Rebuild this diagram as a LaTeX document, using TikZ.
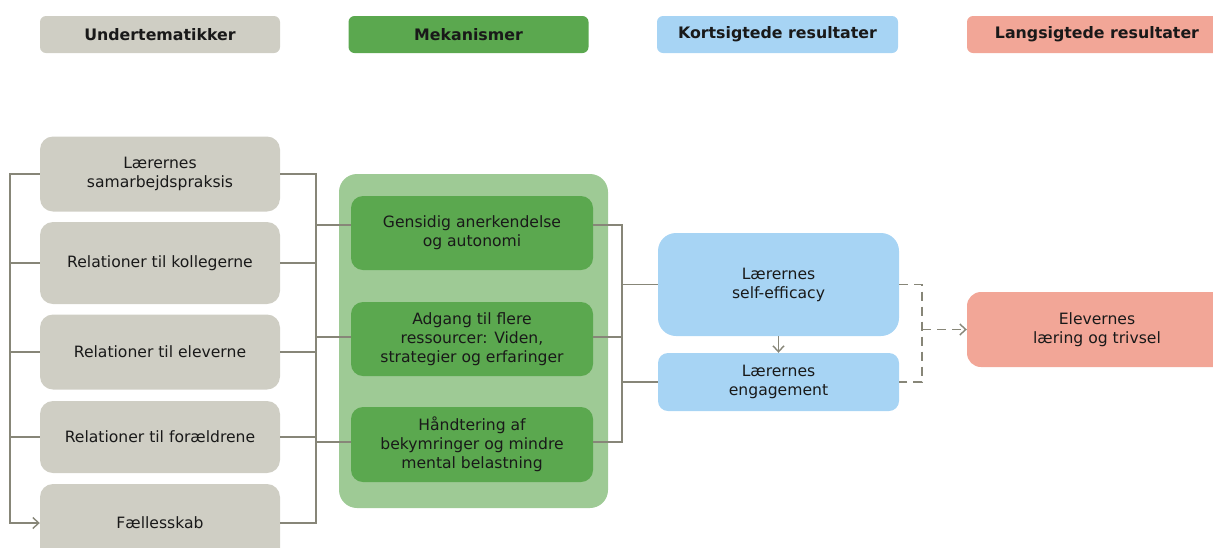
\documentclass[tikz,border=0pt]{standalone}
\usepackage{fontspec}
\setmainfont{DejaVu Sans}
\usetikzlibrary{arrows.meta}

\definecolor{graaboks}{RGB}{207,206,196}
\definecolor{groenmoerk}{RGB}{91,168,79}
\definecolor{groenlys}{RGB}{158,202,149}
\definecolor{blaa}{RGB}{167,212,244}
\definecolor{laks}{RGB}{242,166,151}
\definecolor{linje}{RGB}{135,134,120}
\definecolor{tekst}{RGB}{25,25,25}

\tikzset{
  boks/.style={align=center, text=tekst, inner sep=0pt,
    font=\fontsize{15.6}{19}\selectfont},
  overskrift/.style={boks, rounded corners=6pt, minimum width=240pt,
    minimum height=37pt, font=\fontsize{15.8}{19}\selectfont\bfseries},
  undertema/.style={boks, fill=graaboks, rounded corners=13pt, minimum width=240pt},
  mekanisme/.style={boks, fill=groenmoerk, rounded corners=12pt, minimum width=242pt},
  kortsigt/.style={boks, fill=blaa, minimum width=241pt},
  langsigt/.style={boks, fill=laks, rounded corners=14pt, minimum width=260pt},
  forbind/.style={draw=linje, line width=1.4pt},
  stiplet/.style={forbind, dash pattern=on 9pt off 6pt},
}

\begin{document}
\begin{tikzpicture}[x=1pt, y=-1pt, >={Straight Barb[length=6pt, width=11pt]}]

\clip (0,0) rectangle (1213,547);
\useasboundingbox (0,0) rectangle (1213,547);

% Overskrifter
\node[overskrift, fill=graaboks] (h1) at (160, 34.5) {Undertematikker};
\node[overskrift, fill=groenmoerk] (h2) at (468.5, 34.5) {Mekanismer};
\node[overskrift, fill=blaa, minimum width=241pt] (h3) at (777.5, 34.5) {Kortsigtede resultater};
\node[overskrift, fill=laks, minimum width=260pt] (h4) at (1097, 34.5) {Langsigtede resultater};

% Undertematikker
\node[undertema, minimum height=75pt] (s1) at (160, 174) {Lærernes\\samarbejdspraksis};
\node[undertema, minimum height=82pt] (s2) at (160, 263) {Relationer til kollegerne};
\node[undertema, minimum height=75pt] (s3) at (160, 352) {Relationer til eleverne};
\node[undertema, minimum height=72pt] (s4) at (160, 437) {Relationer til forældrene};
\node[undertema, minimum height=78pt] (s5) at (160, 523) {Fællesskab};

% Mekanismer
\fill[groenlys, rounded corners=18pt] (339, 174) rectangle (608, 508);
\node[mekanisme, minimum height=74pt] (m1) at (472, 233) {Gensidig anerkendelse\\og autonomi};
\node[mekanisme, minimum height=74pt] (m2) at (472, 339) {Adgang til flere\\ressourcer: Viden,\\strategier og erfaringer};
\node[mekanisme, minimum height=75pt] (m3) at (472, 444.5) {Håndtering af\\bekymringer og mindre\\mental belastning};

% Kortsigtede resultater
\node[kortsigt, rounded corners=18pt, minimum height=103pt] (se) at (778.5, 284.5) {Lærernes\\self-efficacy};
\node[kortsigt, rounded corners=10pt, minimum height=58pt] (eng) at (778.5, 382) {Lærernes\\engagement};

% Langsigtede resultater
\node[langsigt, minimum height=75pt] (laering) at (1097, 329.5) {Elevernes\\læring og trivsel};

% Forbindelser
\coordinate (venstre) at (10, 0);
\coordinate (hoejre) at (316, 0);
\coordinate (midt) at (622, 0);
\coordinate (stip) at (922, 0);

\draw[forbind, ->] (s1.west) -| (venstre |- s5.west) -- (s5.west);
\foreach \i in {2,3,4}
  \draw[forbind] (venstre |- s\i.west) -- (s\i.west);

\draw[forbind] (s1.east) -| (hoejre |- s5.east) -- (s5.east);
\foreach \i in {2,3,4}
  \draw[forbind] (s\i.east) -- (hoejre |- s\i.east);

\draw[forbind] (hoejre |- 0,225) -- ([yshift=8pt]m1.west);
\draw[forbind] (hoejre |- 0,337) -- ([yshift=2pt]m2.west);
\draw[forbind] (hoejre |- 0,442) -- ([yshift=2.5pt]m3.west);

\draw[forbind] ([yshift=8pt]m1.east) -| (midt |- 0,442) -- ([yshift=2.5pt]m3.east);
\draw[forbind] ([yshift=2pt]m2.east) -- (midt |- 0,337);
\draw[forbind] (midt |- se.west) -- (se.west);
\draw[forbind] (midt |- eng.west) -- (eng.west);

\draw[forbind, ->] (se.south) -- (eng.north);

\draw[stiplet] (se.east) -| (stip |- eng.east) -- (eng.east);
\draw[stiplet, ->] (stip |- laering.west) -- (laering.west);

\end{tikzpicture}
\end{document}
